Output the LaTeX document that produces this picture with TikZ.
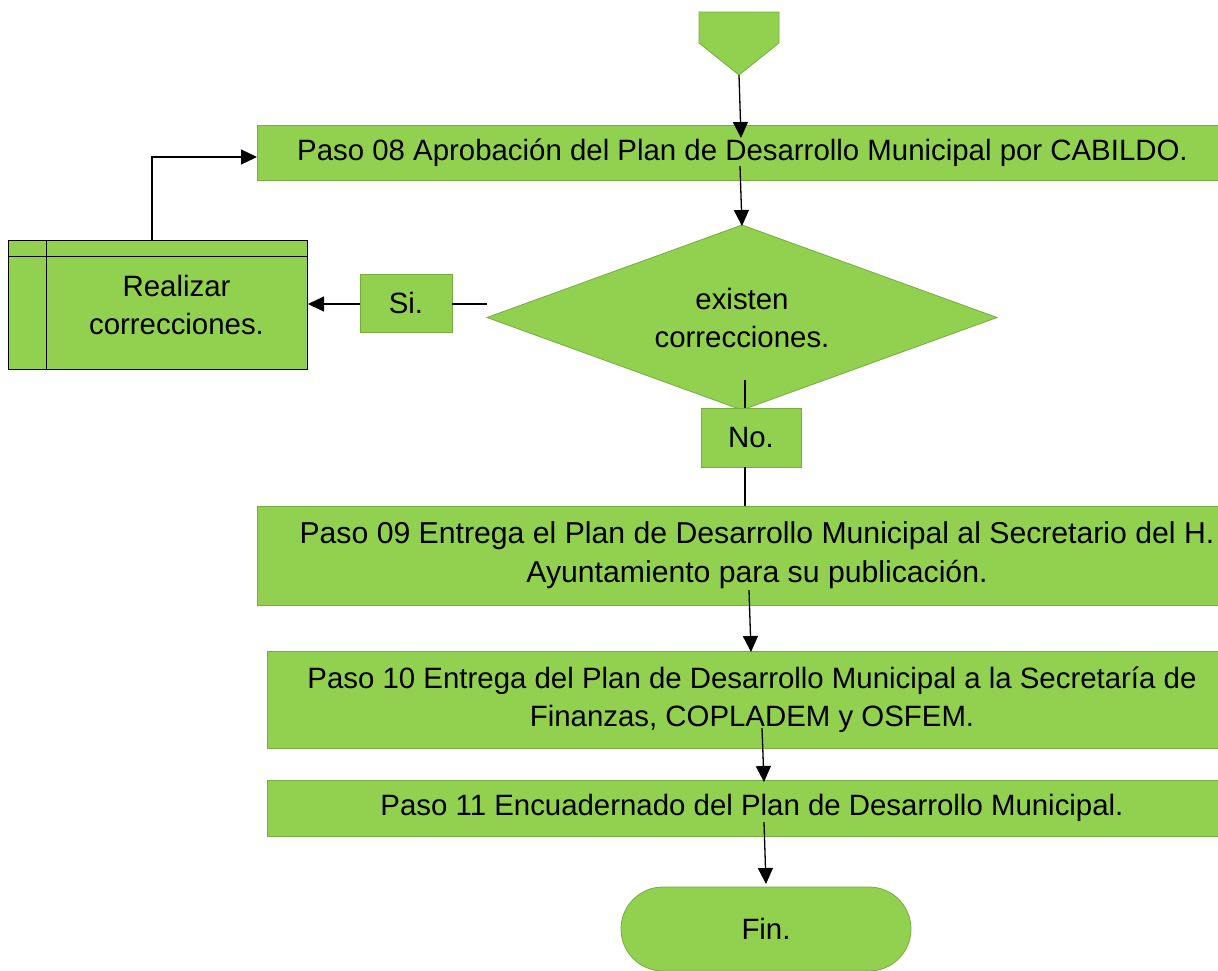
\documentclass[tikz,border=0pt]{standalone}
\usepackage{fontspec}
\setmainfont{Liberation Sans}
\usetikzlibrary{shapes.geometric,arrows.meta}
\definecolor{gfill}{RGB}{146,208,80}
\definecolor{gline}{RGB}{118,172,64}
\begin{document}
\begin{tikzpicture}[x=1pt,y=-1pt,
  box/.style={draw=gline,fill=gfill,line width=0.8pt,inner sep=0pt,outer sep=0pt,align=center,font=\fontsize{29.4}{38}\selectfont},
  conn/.style={line width=1.3pt},
  arr/.style={conn,-{Triangle[length=16pt,width=15pt]}}]
\useasboundingbox (0,0) rectangle (1218,970);
\fill[white] (0,0) rectangle (1218,970);
% start pentagon
\draw[draw=gline,fill=gfill,line width=0.8pt] (699,12) -- (779,12) -- (779,43) -- (739,75) -- (699,43) -- cycle;
\coordinate (start) at (739,75);
% nodes
\node[box,minimum width=971,minimum height=55] (p08) at (742.5,152.5) {Paso 08 Aprobación del Plan de Desarrollo Municipal por CABILDO.};
\node[box,diamond,minimum width=510,minimum height=185,aspect=2.76] (dec) at (742,317.5) {existen\\correcciones.};
\node[box,minimum width=92,minimum height=58] (si) at (406,303) {Si.};
\node[box,minimum width=100,minimum height=59] (no) at (751,437.5) {No.};
\draw[draw=black,fill=gfill,line width=0.8pt] (8,240) rectangle (46,369);
\node[box,draw=black,minimum width=261,minimum height=129] (corr) at (176.5,304.5) {Realizar\\correcciones.};
\draw[line width=0.8pt] (8,256) -- (307,256);
\node[box,minimum width=1000,minimum height=99,font=\fontsize{30.2}{39}\selectfont] (p09) at (757,555.5) {Paso 09 Entrega el Plan de Desarrollo Municipal al Secretario del H.\\Ayuntamiento para su publicación.};
\node[box,minimum width=970,minimum height=97] (p10) at (752,699.5) {Paso 10 Entrega del Plan de Desarrollo Municipal a la Secretaría de\\Finanzas, COPLADEM y OSFEM.};
\node[box,minimum width=970,minimum height=56] (p11) at (752,808) {Paso 11 Encuadernado del Plan de Desarrollo Municipal.};
\node[box,rounded corners=42pt,minimum width=290,minimum height=84] (fin) at (766,929) {Fin.};
% coordinates for connector ends
\coordinate (a1) at (741,138);
\coordinate (b0) at (740,166);
\coordinate (b1) at (742,226);
\coordinate (c0) at (487,304);
\coordinate (si-e) at (452,304);
\coordinate (si-w) at (360,304);
\coordinate (corr-e) at (308,304);
\coordinate (corr-n) at (152,240);
\coordinate (p08-w) at (257,157);
\coordinate (f0) at (745,380);
\coordinate (no-n) at (745,408);
\coordinate (no-s) at (745,467);
\coordinate (p09-n) at (745,506);
\coordinate (h0) at (749,590);
\coordinate (p10-n) at (751,652);
\coordinate (i0) at (762,728);
\coordinate (p11-n) at (764,782);
\coordinate (j0) at (764,822);
\coordinate (fin-n) at (766,884);
% connectors
\draw[arr] (start) -- (a1);
\draw[arr] (b0) -- (b1);
\draw[conn] (c0) -- (si-e);
\draw[arr] (si-w) -- (corr-e);
\draw[arr] (corr-n) |- (p08-w);
\draw[conn] (f0) -- (no-n);
\draw[conn] (no-s) -- (p09-n);
\draw[arr] (h0) -- (p10-n);
\draw[arr] (i0) -- (p11-n);
\draw[arr] (j0) -- (fin-n);
\end{tikzpicture}
\end{document}
